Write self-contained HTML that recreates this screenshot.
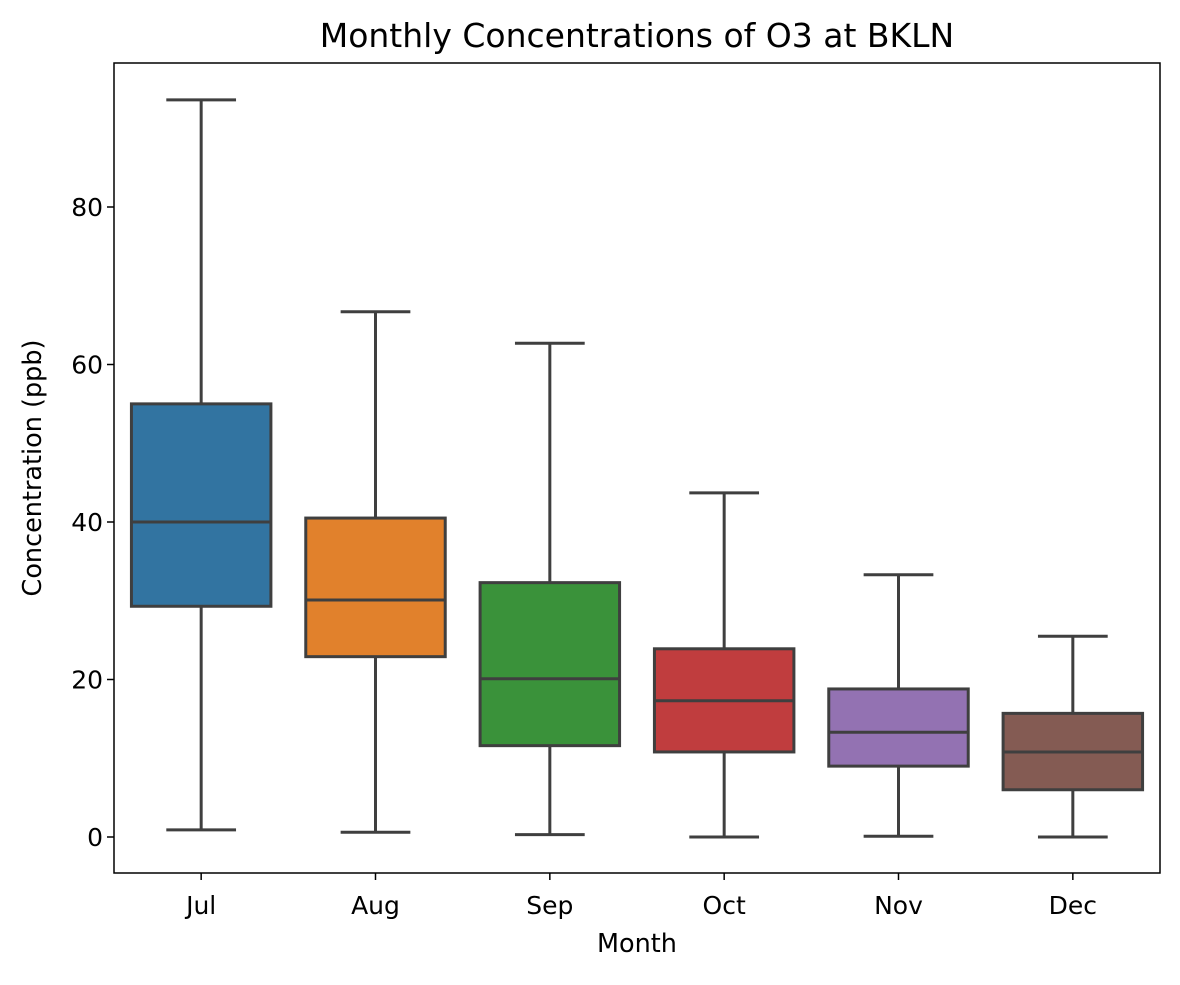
<!DOCTYPE html>
<html><head><meta charset="utf-8"><style>
body{margin:0;background:#fff}
svg text{font-family:"DejaVu Sans","Liberation Sans",sans-serif;fill:#000}
</style></head><body>
<svg id="chart" width="1180" height="980" viewBox="0 0 1180 980" xmlns="http://www.w3.org/2000/svg">
<rect width="1180" height="980" fill="#fff"/>
<text x="637" y="47" font-size="33" text-anchor="middle">Monthly Concentrations of O3 at BKLN</text>
<text x="637" y="952" font-size="25.5" text-anchor="middle">Month</text>
<text transform="translate(41,468) rotate(-90)" font-size="25.5" text-anchor="middle">Concentration (ppb)</text>
<g id="marks"></g>
<rect x="114" y="63" width="1046" height="810" fill="none" stroke="#000" stroke-width="1.5"/>
</svg>
<script>
const categories = ["Jul","Aug","Sep","Oct","Nov","Dec"];
const whiskerLow = [0.9,0.6,0.3,0.0,0.1,0.0];
const q1 = [29.3,22.9,11.6,10.8,9.0,6.0];
const median = [40.0,30.1,20.1,17.3,13.3,10.8];
const q3 = [55.0,40.5,32.3,23.9,18.8,15.7];
const whiskerHigh = [93.6,66.7,62.7,43.7,33.3,25.5];
const colors = ["#3274a1","#e1812c","#3a923a","#c03d3e","#9372b2","#845b53"];
const yTicks = [0,20,40,60,80];

const X0=114,X1=1160,Y0=837,PPU=7.875;
const step=(X1-X0)/categories.length;
const xs=i=>X0+step*(i+0.5);
const ys=v=>Y0-v*PPU;
const NS="http://www.w3.org/2000/svg";
const g=document.getElementById('marks');
function mk(tag,attrs){const e=document.createElementNS(NS,tag);for(const k in attrs)e.setAttribute(k,attrs[k]);g.appendChild(e);return e;}
const LC="#3f3f3f",LW=3;
yTicks.forEach(t=>{
  const l=mk('line',{x1:X0-7,x2:X0,y1:ys(t),y2:ys(t),stroke:'#000','stroke-width':1.5});
  
  
  const tx=mk('text',{x:X0-11,y:ys(t)+9,'font-size':25,'text-anchor':'end'});
  tx.textContent=t;
  
  
});
categories.forEach((c,i)=>{
  const cx=xs(i),bw=step*0.8,cw=bw*0.5;
  const l=mk('line',{x1:cx,x2:cx,y1:873,y2:880,stroke:'#000','stroke-width':1.5});
  
  
  const tx=mk('text',{x:cx,y:914,'font-size':25,'text-anchor':'middle'});
  tx.textContent=c;
  
  
  const w1=mk('line',{x1:cx,x2:cx,y1:ys(q3[i]),y2:ys(whiskerHigh[i]),stroke:LC,'stroke-width':LW});
  
  
  const w2=mk('line',{x1:cx,x2:cx,y1:ys(q1[i]),y2:ys(whiskerLow[i]),stroke:LC,'stroke-width':LW});
  
  
  const c1=mk('line',{x1:cx-cw/2,x2:cx+cw/2,y1:ys(whiskerHigh[i]),y2:ys(whiskerHigh[i]),stroke:LC,'stroke-width':LW});
  
  
  const c2=mk('line',{x1:cx-cw/2,x2:cx+cw/2,y1:ys(whiskerLow[i]),y2:ys(whiskerLow[i]),stroke:LC,'stroke-width':LW});
  
  
  const b=mk('rect',{x:cx-bw/2,y:ys(q3[i]),width:bw,height:ys(q1[i])-ys(q3[i]),fill:colors[i],stroke:LC,'stroke-width':LW});
  
  
  const m=mk('line',{x1:cx-bw/2,x2:cx+bw/2,y1:ys(median[i]),y2:ys(median[i]),stroke:LC,'stroke-width':LW});
  
  
});
</script>
</body></html>
